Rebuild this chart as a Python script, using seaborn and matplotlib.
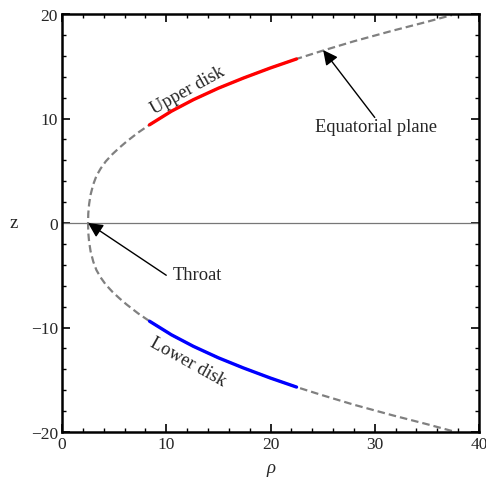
import matplotlib
matplotlib.use("Agg")
import matplotlib.pyplot as plt
import seaborn as sns
import numpy as np
import pandas as pd
from matplotlib.ticker import MultipleLocator

# ---- data (upper branch, from throat outward) ----
rho_upper = [2.5, 2.52, 2.6, 2.74, 3.0, 3.3, 3.7, 4.2, 4.85, 5.5, 6.2, 7.3, 8.4,
             10.5, 12.6, 15.0, 17.4, 20.0, 22.5, 25.0, 28.0, 31.7, 35.0, 37.4]
z_upper = [0.0, 0.9, 1.8, 2.7, 3.7, 4.5, 5.2, 5.9, 6.6, 7.2, 7.8, 8.65, 9.4,
           10.7, 11.8, 12.9, 13.87, 14.84, 15.7, 16.49, 17.39, 18.4, 19.25, 19.9]
# lower branch is the mirror image of the upper one
rho_lower = list(rho_upper)
z_lower = [-v for v in z_upper]

disk_rho_min = 8.4
disk_rho_max = 22.5

x_ticks = [0, 10, 20, 30, 40]
y_ticks = [-20, -10, 0, 10, 20]

# full embedding curve, ordered from bottom to top
rho_full = rho_lower[::-1] + rho_upper[1:]
z_full = z_lower[::-1] + z_upper[1:]
df_full = pd.DataFrame({"rho": rho_full, "z": z_full})
df_up = pd.DataFrame({"rho": rho_upper, "z": z_upper})
df_up = df_up[(df_up.rho >= disk_rho_min) & (df_up.rho <= disk_rho_max)]
df_lo = pd.DataFrame({"rho": rho_lower, "z": z_lower})
df_lo = df_lo[(df_lo.rho >= disk_rho_min) & (df_lo.rho <= disk_rho_max)]

sns.set_style("ticks")
plt.rcParams["font.family"] = ["Liberation Serif", "DejaVu Serif"]
plt.rcParams["mathtext.fontset"] = "stix"

fig = plt.figure(figsize=(4.86, 4.81), dpi=100)
ax = fig.add_axes([62 / 486, 1 - 433 / 481, 417 / 486, 418 / 481])

ax.axhline(0, color="#777777", lw=0.9, zorder=1)

sns.lineplot(data=df_full, x="rho", y="z", sort=False, estimator=None, ax=ax,
             color="#808080", lw=1.6, linestyle=(0, (3.4, 1.8)), zorder=2)
sns.lineplot(data=df_up, x="rho", y="z", sort=False, estimator=None, ax=ax,
             color="#ff0000", lw=2.4, zorder=3)
sns.lineplot(data=df_lo, x="rho", y="z", sort=False, estimator=None, ax=ax,
             color="#0000ff", lw=2.4, zorder=3)

ax.set_xlim(0, 40)
ax.set_ylim(-20, 20)
ax.set_xticks(x_ticks)
ax.set_yticks(y_ticks)
ax.xaxis.set_minor_locator(MultipleLocator(2))
ax.yaxis.set_minor_locator(MultipleLocator(2))
ax.tick_params(which="both", direction="in", top=True, right=True,
               labeltop=False, labelright=False, color="black")
ax.tick_params(which="major", length=6, width=1.2, labelsize=12.5, pad=3)
ax.tick_params(which="minor", length=3, width=1.0)
for s in ax.spines.values():
    s.set_linewidth(1.8)
    s.set_color("black")

ax.set_xlabel("ρ", fontsize=13.5, fontstyle="italic")
ax.set_ylabel("z", fontsize=13.5, rotation=0, va="center", ha="center")
ax.xaxis.set_label_coords(0.5, -0.065)
ax.yaxis.set_label_coords(-0.115, 0.5)

ax.text(12.1, 12.8, "Upper disk", fontsize=13.3, rotation=29,
        ha="center", va="center")
ax.text(12.1, -13.2, "Lower disk", fontsize=13.3, rotation=-29,
        ha="center", va="center")

arrow = dict(arrowstyle="-|>", color="black", lw=1.0, mutation_scale=22,
             shrinkA=0, shrinkB=0)
ax.annotate("", xy=(2.5, 0.0), xytext=(10.0, -5.0), arrowprops=arrow)
ax.text(10.6, -4.9, "Throat", fontsize=13.3, ha="left", va="center")
ax.annotate("", xy=(25.05, 16.55), xytext=(30.0, 10.1), arrowprops=arrow)
ax.text(30.1, 9.2, "Equatorial plane", fontsize=13.3, ha="center", va="center")

fig.savefig("out.png", dpi=100)
